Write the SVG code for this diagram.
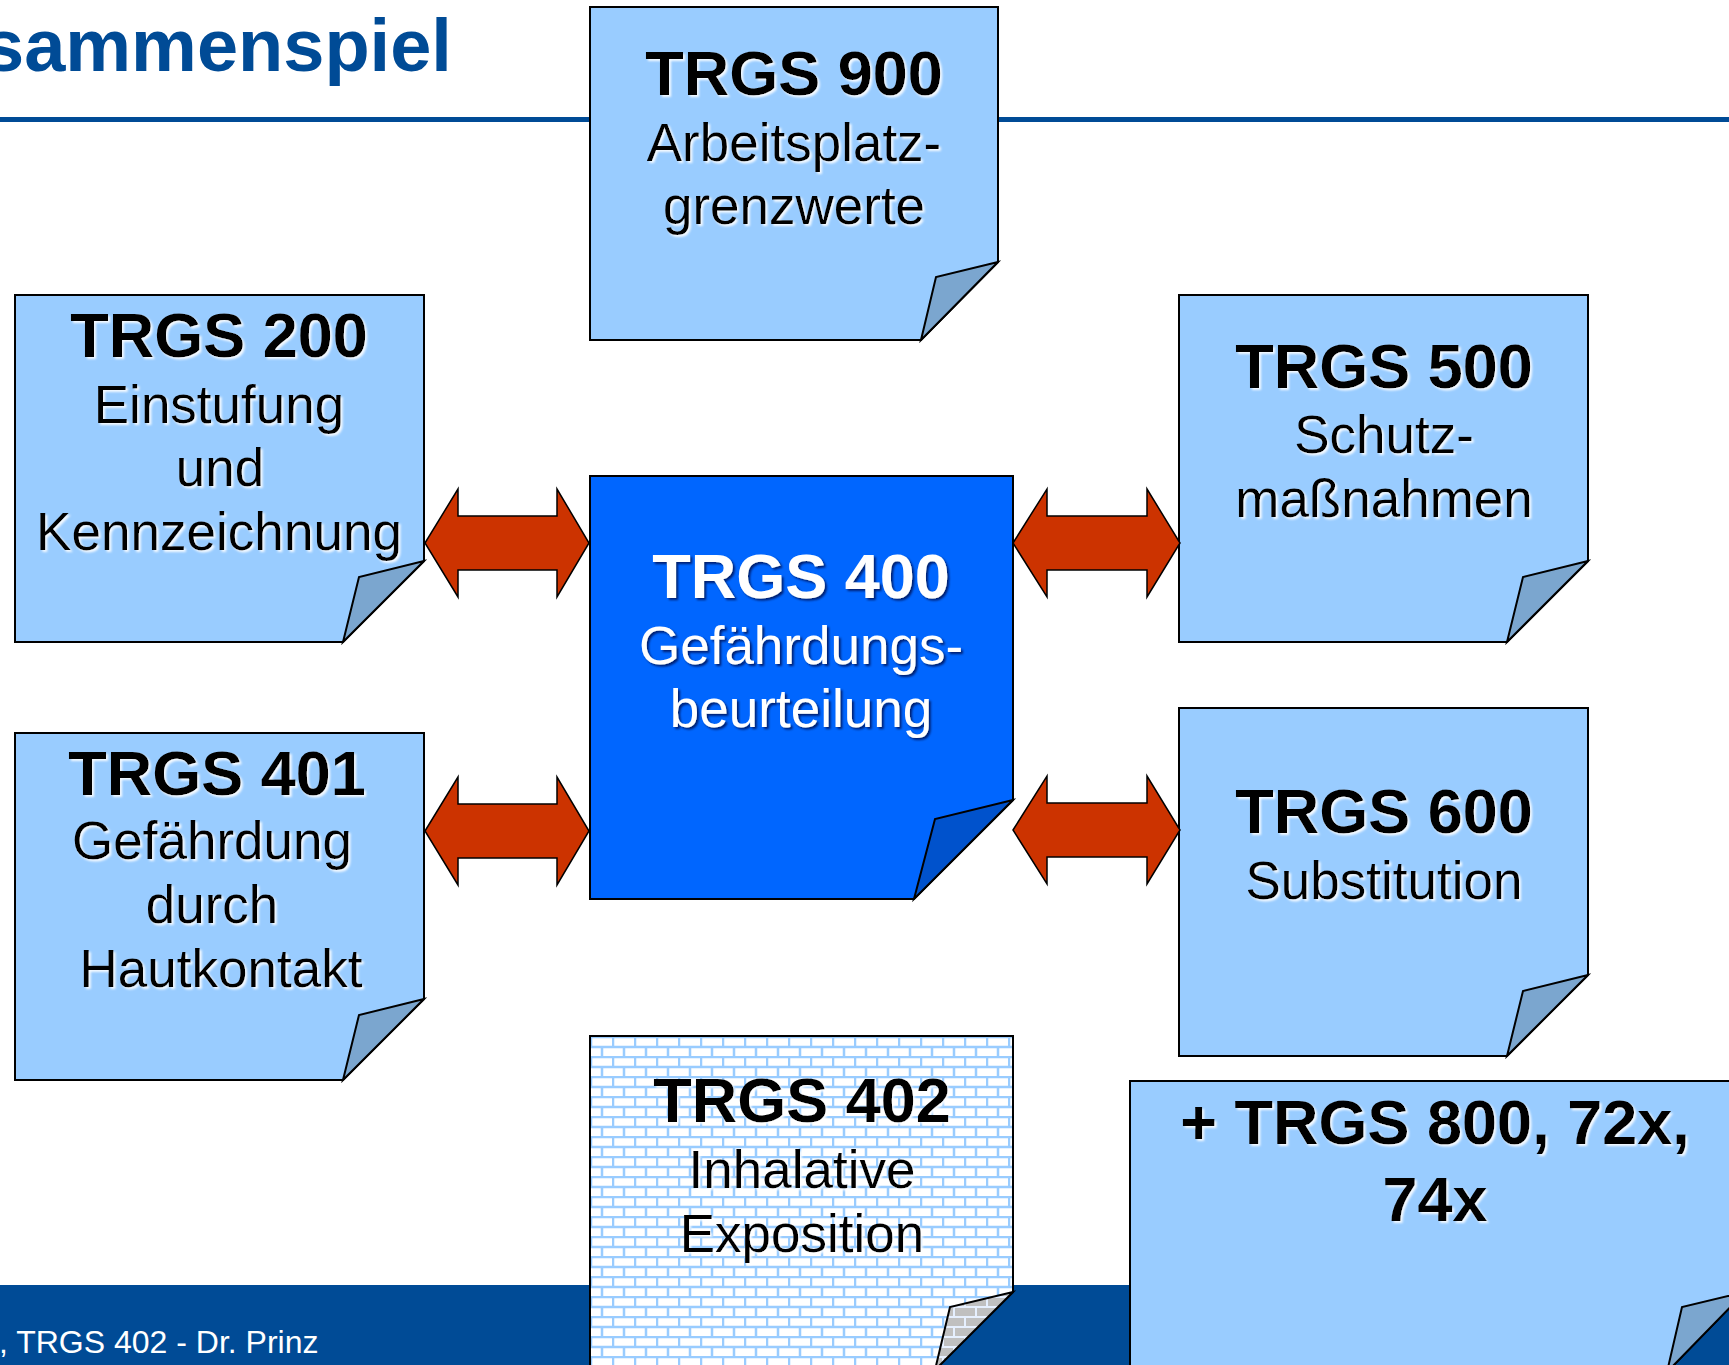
<svg xmlns="http://www.w3.org/2000/svg" width="1729" height="1365" viewBox="0 0 1729 1365">
<defs>
<style>
.box{fill:#99ccff;stroke:#000;stroke-width:2}
.fold{fill:#7ba6cf;stroke:#000;stroke-width:2;stroke-linejoin:miter}
.t{font-family:"Liberation Sans",Arial,sans-serif;text-anchor:middle;fill:#000}
.b{font-weight:bold;font-size:63px}
.r{font-size:53px}
.w{fill:#fff}
.arrow{fill:#cc3300;stroke:#000;stroke-width:1.5}
</style>
<filter id="lite" x="-5%" y="-20%" width="115%" height="150%">
<feDropShadow dx="2" dy="2" stdDeviation="1.2" flood-color="#ffffff" flood-opacity="0.9"/>
</filter>
<filter id="dark" x="-5%" y="-20%" width="115%" height="150%">
<feDropShadow dx="2" dy="2" stdDeviation="1.2" flood-color="#000033" flood-opacity="0.7"/>
</filter>
<pattern id="brick" width="22" height="20" patternUnits="userSpaceOnUse" x="590" y="1036">
<rect width="22" height="20" fill="#fff"/>
<path d="M0 1H22M0 11H22M1 1V11M12 11V21" stroke="#99ccff" stroke-width="2.5" fill="none"/>
</pattern>
<pattern id="brickT" width="22" height="20" patternUnits="userSpaceOnUse" x="590" y="1036">
<path d="M0 1H22M0 11H22M1 1V11M12 11V21" stroke="#e6f0ff" stroke-width="2" fill="none"/>
</pattern>
</defs>

<rect width="1729" height="1365" fill="#fff"/>

<g id="header">
<text x="-17" y="71" font-family="'Liberation Sans',Arial,sans-serif" font-weight="bold" font-size="74" fill="#004b96">sammenspiel</text>
<rect x="0" y="117" width="1729" height="5" fill="#004b96"/>
</g>

<g id="footer">
<rect x="0" y="1285" width="1729" height="80" fill="#004b96"/>
<text x="-1" y="1353" font-family="'Liberation Sans',Arial,sans-serif" font-size="32" fill="#fff">, TRGS 402 - Dr. Prinz</text>
</g>

<g id="trgs900">
<path class="box" d="M590 7H998V262L921 340H590Z"/>
<path class="fold" d="M998 262L936 277L921 340Z"/>
<g filter="url(#lite)">
<text class="t b" x="794" y="95">TRGS 900</text>
<text class="t r" x="794" y="161">Arbeitsplatz-</text>
<text class="t r" x="794" y="224">grenzwerte</text>
</g>
</g>

<g id="trgs200">
<path class="box" d="M15 295H424V561L343 642H15Z"/>
<path class="fold" d="M424 561L359 577L343 642Z"/>
<g filter="url(#lite)">
<text class="t b" x="219" y="357">TRGS 200</text>
<text class="t r" x="219" y="423">Einstufung</text>
<text class="t r" x="220" y="486">und</text>
<text class="t r" x="219" y="550" textLength="366" lengthAdjust="spacingAndGlyphs" font-size="55">Kennzeichnung</text>
</g>
</g>

<g id="trgs401">
<path class="box" d="M15 733H424V999L343 1080H15Z"/>
<path class="fold" d="M424 999L359 1015L343 1080Z"/>
<g filter="url(#lite)">
<text class="t b" x="217" y="795">TRGS 401</text>
<text class="t r" x="212" y="859">Gefährdung</text>
<text class="t r" x="212" y="923">durch</text>
<text class="t r" x="221" y="987">Hautkontakt</text>
</g>
</g>

<g id="trgs400">
<path d="M590 476H1013V800L914 899H590Z" fill="#0066ff" stroke="#000" stroke-width="2"/>
<path d="M1013 800L935 819L914 899Z" fill="#0052cc" stroke="#000" stroke-width="2"/>
<g filter="url(#dark)">
<text class="t b w" x="801" y="598">TRGS 400</text>
<text class="t r w" x="801" y="664">Gefährdungs-</text>
<text class="t r w" x="801" y="727">beurteilung</text>
</g>
</g>

<g id="trgs500">
<path class="box" d="M1179 295H1588V561L1507 642H1179Z"/>
<path class="fold" d="M1588 561L1523 577L1507 642Z"/>
<g filter="url(#lite)">
<text class="t b" x="1384" y="388">TRGS 500</text>
<text class="t r" x="1384" y="453">Schutz-</text>
<text class="t r" x="1384" y="517">maßnahmen</text>
</g>
</g>

<g id="trgs600">
<path class="box" d="M1179 708H1588V975L1507 1056H1179Z"/>
<path class="fold" d="M1588 975L1523 991L1507 1056Z"/>
<g filter="url(#lite)">
<text class="t b" x="1384" y="833">TRGS 600</text>
<text class="t r" x="1384" y="899">Substitution</text>
</g>
</g>

<g id="trgs402">
<path d="M590 1036H1013V1292L935 1370H590Z" fill="url(#brick)" stroke="#000" stroke-width="2"/>
<path d="M1013 1292L950 1307L935 1370Z" fill="#c0c0c0"/>
<path d="M1013 1292L950 1307L935 1370Z" fill="url(#brickT)" stroke="#000" stroke-width="2"/>
<g filter="url(#lite)">
<text class="t b" x="802" y="1122">TRGS 402</text>
<text class="t r" x="802" y="1188">Inhalative</text>
<text class="t r" x="802" y="1252">Exposition</text>
</g>
</g>

<g id="trgs800">
<path class="box" d="M1130 1081H1745V1292L1667 1372H1130Z"/>
<path class="fold" d="M1745 1292L1682 1307L1667 1372Z"/>
<g filter="url(#lite)">
<text class="t b" x="1435" y="1144">+ TRGS 800, 72x,</text>
<text class="t b" x="1435" y="1221">74x</text>
</g>
</g>

<g id="connectors">
<polygon class="arrow" points="425,543 458,489 458,516 557,516 557,489 589,543 557,597 557,570 458,570 458,597"/>
<polygon class="arrow" points="425,831 458,777 458,804 557,804 557,777 589,831 557,885 557,858 458,858 458,885"/>
<polygon class="arrow" points="1013,543 1047,489 1047,516 1147,516 1147,489 1180,543 1147,597 1147,570 1047,570 1047,597"/>
<polygon class="arrow" points="1013,830 1047,776 1047,803 1147,803 1147,776 1180,830 1147,884 1147,857 1047,857 1047,884"/>
</g>
</svg>
